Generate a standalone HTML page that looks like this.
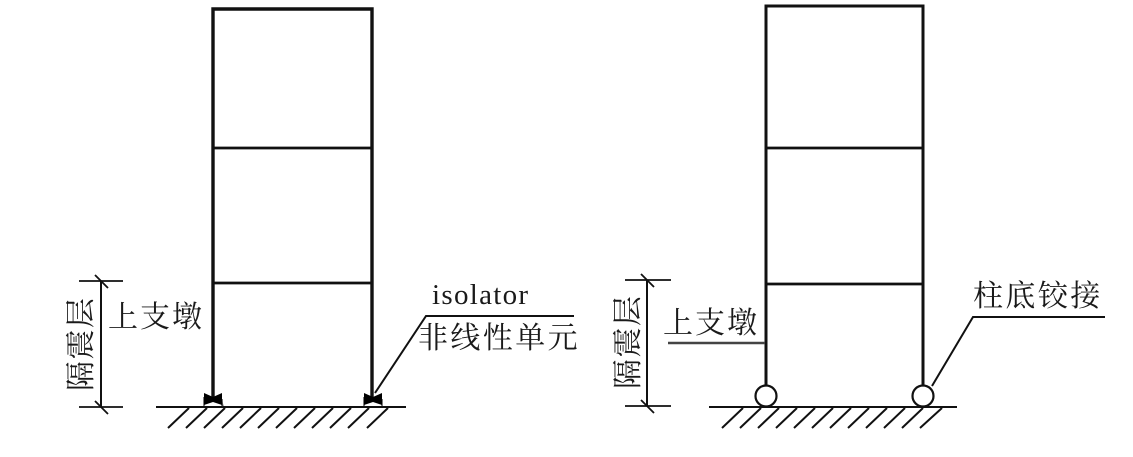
<!DOCTYPE html>
<html>
<head>
<meta charset="utf-8">
<style>
html,body{margin:0;padding:0;background:#fff;}
svg{display:block;}
text{font-family:"Liberation Serif","Noto Serif CJK SC",serif;fill:#1a1a1a;}
</style>
</head>
<body>
<svg width="1133" height="457" viewBox="0 0 1133 457" xmlns="http://www.w3.org/2000/svg">
<g fill="none" stroke="#111">
  <!-- left frame -->
  <path d="M213 400V9H372V400" stroke-width="3.4"/>
  <path d="M213 148H372M213 283H372" stroke-width="2.8"/>
  <path d="M156 407H406" stroke-width="2"/>
  <path d="M168 428L189 408M186 428L207 408M204 428L225 408M222 428L243 408M240 428L261 408M258 428L279 408M276 428L297 408M294 428L315 408M312 428L333 408M330 428L351 408M348 428L369 408M367 428L388 408" stroke-width="2"/>
  <!-- left dimension -->
  <path d="M101 281V407" stroke-width="2"/>
  <path d="M79 281H123M79 407H123" stroke-width="1.8"/>
  <path d="M95 275L108 288M95 401L108 414" stroke-width="1.8"/>
  <!-- left isolator boxes -->
  <path d="M204 406V397M222 406V399Q222 404 223 406M364 406V397M382 406V399" stroke-width="1.4" stroke="#444"/>
  <!-- left leader -->
  <path d="M574 316H426L375 393" stroke-width="2"/>
  <!-- right frame -->
  <path d="M766 385V6H923V385" stroke-width="3"/>
  <path d="M766 148H923M766 284H923" stroke-width="2.8"/>
  <path d="M709 407H957" stroke-width="2"/>
  <path d="M722 428L743 408M740 428L761 408M758 428L779 408M776 428L797 408M794 428L815 408M812 428L833 408M830 428L851 408M848 428L869 408M866 428L887 408M884 428L905 408M902 428L923 408M920 428L942 408" stroke-width="2"/>
  <circle cx="766" cy="396" r="10.5" stroke-width="2.2" fill="#fff"/>
  <circle cx="923" cy="396" r="10.5" stroke-width="2.2" fill="#fff"/>
  <!-- right dimension -->
  <path d="M647 280V406" stroke-width="2"/>
  <path d="M625 280H671M625 406H671" stroke-width="1.8"/>
  <path d="M641 274L654 287M641 400L654 413" stroke-width="1.8"/>
  <path d="M668 343H765" stroke-width="2.4" stroke="#444"/>
  <!-- right leader -->
  <path d="M1105 317H973L932 386" stroke-width="2"/>
</g>
<!-- isolator bowties -->
<g fill="#000">
  <path d="M204 393L213 397L222 393V405L213 402L204 405Z"/>
  <path d="M364 393L373 397L382 393V405L373 402L364 405Z"/>
</g>
<text x="108" y="327" font-size="30" letter-spacing="2">上支墩</text>
<text transform="translate(91 391) rotate(-90)" font-size="30" letter-spacing="1.5">隔震层</text>
<text x="663" y="333" font-size="30" letter-spacing="2">上支墩</text>
<text transform="translate(638 389) rotate(-90)" font-size="30" letter-spacing="1.5">隔震层</text>
<text x="432" y="304" font-size="29" letter-spacing="1.3">isolator</text>
<text x="418" y="348" font-size="30" letter-spacing="2.4">非线性单元</text>
<text x="973" y="306" font-size="30" letter-spacing="2.4">柱底铰接</text>
</svg>
</body>
</html>
